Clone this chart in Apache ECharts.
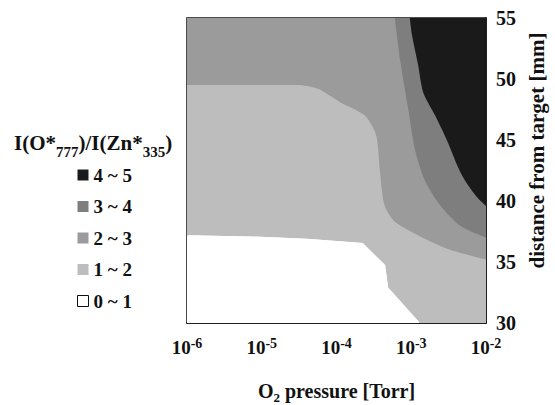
<!DOCTYPE html>
<html><head><meta charset="utf-8">
<script src="https://cdn.jsdelivr.net/npm/echarts@6/dist/echarts.min.js"></script>
<style>html,body{margin:0;padding:0;background:#fff}#c{width:555px;height:405px}</style>
</head><body><div id="c"></div>
<script>
// legend levels of I(O*777)/I(Zn*335), lowest first
const levelNames = ['0 ~ 1', '1 ~ 2', '2 ~ 3', '3 ~ 4', '4 ~ 5'];
// x tick labels: exponents of O2 pressure (Torr), axis value = log10(pressure)
const xTickExponents = [-6, -5, -4, -3, -2];
// y tick labels: distance from target (mm)
const yTicks = [30, 35, 40, 45, 50, 55];
// contour boundaries: [log10(pressure), distance]
// boundary between 0~1 (below) and 1~2 (above)
const bound1 = [[-6, 37.2], [-5.16, 37.1], [-4.4, 36.9], [-3.65, 36.55], [-3.35, 34.75], [-3.31, 32.9], [-2.92, 30.25], [-2.88, 30], [-2, 30]];
// boundary between 1~2 (below) and 2~3 (above)
const bound2 = [[-6, 49.5], [-4.53, 49.5], [-4.25, 49.2], [-3.95, 48.1], [-3.62, 47.0], [-3.47, 45.4], [-3.42, 42.5], [-3.36, 39.7], [-3.22, 38.3], [-2.88, 37.1], [-2.48, 36.0], [-2, 35.2]];
// boundary between 2~3 (below) and 3~4 (above)
const bound3 = [[-3.22, 55], [-3.15, 51.6], [-3.04, 47.5], [-2.95, 44.2], [-2.82, 41.7], [-2.62, 39.7], [-2.35, 38.0], [-2, 37.0]];
// boundary between 3~4 (below) and 4~5 (above)
const bound4 = [[-3.02, 55], [-2.99, 53.6], [-2.91, 51.2], [-2.84, 48.9], [-2.68, 47.0], [-2.51, 44.8], [-2.39, 43.0], [-2.32, 42.1], [-2.24, 41.3], [-2.11, 40.25], [-2, 39.6]];

const F = "'Liberation Serif','Times New Roman',serif";
const INK = '#111';
const colors = ['#ffffff', '#bdbdbd', '#9b9b9b', '#7e7e7e', '#1a1a1a'];

function band(name, data, origin, color, smooth) {
  return {
    type: 'line', name: name, data: data, symbol: 'none', showSymbol: false,
    smooth: smooth, silent: true,
    lineStyle: { width: 0, color: color },
    areaStyle: { color: color, opacity: 1, origin: origin },
    itemStyle: { color: color }
  };
}

const chart = echarts.init(document.getElementById('c'), null, { renderer: 'svg' });
chart.setOption({
  animation: false,
  backgroundColor: '#fff',
  grid: { left: 187, right: 69, top: 18, bottom: 82, show: true, borderColor: INK, borderWidth: 1.5, backgroundColor: 'transparent', outerBoundsMode: 'none' },
  title: {
    left: 9, top: 127,
    text: '{a|I(O*}{s|777}{a|)/I(Zn*}{s|335}{a|)}',
    textStyle: { rich: {
      a: { fontFamily: F, fontWeight: 'bold', fontSize: 21, color: INK, verticalAlign: 'bottom', padding: [0, 0, 6, 0] },
      s: { fontFamily: F, fontWeight: 'bold', fontSize: 15, color: INK, verticalAlign: 'bottom' }
    } }
  },
  legend: {
    orient: 'vertical', left: 72, top: 160, icon: 'rect', itemWidth: 11, itemHeight: 11, itemGap: 11.5,
    selectedMode: false,
    textStyle: { fontFamily: F, fontWeight: 'bold', fontSize: 19, color: INK, lineHeight: 20 },
    data: levelNames.slice().reverse().map(function (n) {
      const i = levelNames.indexOf(n);
      return { name: n, itemStyle: i === 0 ? { color: '#fff', borderColor: INK, borderWidth: 1 } : { color: colors[i], borderWidth: 0 } };
    })
  },
  xAxis: {
    type: 'value', min: xTickExponents[0], max: xTickExponents[xTickExponents.length - 1], interval: 1,
    axisLine: { show: true, lineStyle: { color: INK, width: 1.5 } }, axisTick: { show: false }, splitLine: { show: false },
    axisLabel: {
      margin: 13, fontFamily: F, fontWeight: 'bold', fontSize: 19, color: INK,
      formatter: function (v) { return '{b|10}{s|' + v + '}'; },
      rich: {
        b: { fontFamily: F, fontWeight: 'bold', fontSize: 19, color: INK, verticalAlign: 'bottom' },
        s: { fontFamily: F, fontWeight: 'bold', fontSize: 14, color: INK, verticalAlign: 'bottom', padding: [0, 0, 7, 0] }
      }
    },
    name: '{b|O}{s|2}{b| pressure [Torr]}', nameLocation: 'middle', nameGap: 58,
    nameTextStyle: { fontFamily: F, fontWeight: 'bold', fontSize: 20, color: INK, rich: {
      b: { fontFamily: F, fontWeight: 'bold', fontSize: 20, color: INK, verticalAlign: 'bottom', padding: [0, 0, 3, 0] },
      s: { fontFamily: F, fontWeight: 'bold', fontSize: 13, color: INK, verticalAlign: 'bottom' }
    } }
  },
  yAxis: {
    type: 'value', min: yTicks[0], max: yTicks[yTicks.length - 1], interval: 5, position: 'right',
    axisLine: { show: true, lineStyle: { color: INK, width: 1.5 } }, axisTick: { show: false }, splitLine: { show: false },
    axisLabel: { margin: 10, fontFamily: F, fontWeight: 'bold', fontSize: 20, color: INK },
    name: 'distance from target [mm]', nameLocation: 'middle', nameRotate: 90, nameGap: 36,
    nameTextStyle: { fontFamily: F, fontWeight: 'bold', fontSize: 21, color: INK, padding: [0, 0, 0, 40] }
  },
  series: [
    band(levelNames[1], bound1, 'end', colors[1], false),
    band(levelNames[2], bound2, 'end', colors[2], 0.25),
    band(levelNames[3], bound3, 'end', colors[3], 0.25),
    band(levelNames[4], bound4, 'end', colors[4], 0.25),
    band(levelNames[0], bound1, 'start', colors[0], false)
  ]
});
</script>
</body></html>
